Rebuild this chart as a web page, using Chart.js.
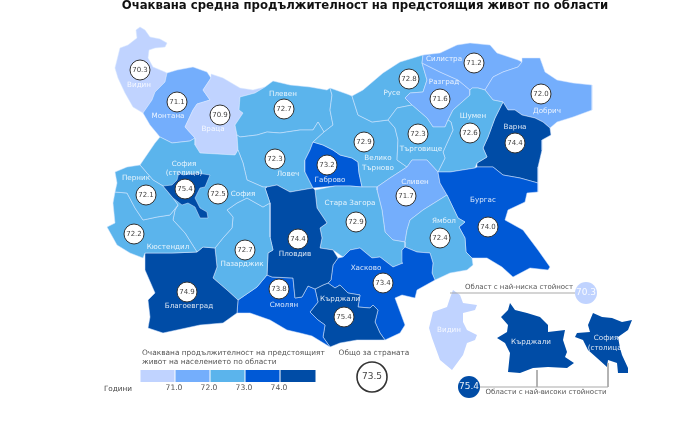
<!DOCTYPE html>
<html lang="bg">
<head>
<meta charset="utf-8">
<title>Очаквана средна продължителност</title>
<script src="https://cdn.jsdelivr.net/npm/chart.js@4"></script>
<style>
  html, body { margin: 0; padding: 0; background: #fff; }
  canvas { display: block; }
</style>
</head>
<body>
<canvas id="mapChart" width="696" height="421"></canvas>
<script>
/* ── Data ───────────────────────────────────────────────── */
const regionNames  = ['Видин','Монтана','Враца','Плевен','Ловеч','Габрово','Велико Търново','Русе','Разград','Силистра','Добрич','Варна','Шумен','Търговище','Сливен','Бургас','Ямбол','Стара Загора','Хасково','Кърджали','Смолян','Пловдив','Пазарджик','Благоевград','София','Кюстендил','Перник','София (столица)'];
const regionValues = [70.3,71.1,70.9,72.7,72.3,73.2,72.9,72.8,71.6,71.2,72.0,74.4,72.6,72.3,71.7,74.0,72.4,72.9,73.4,75.4,73.8,74.4,72.7,74.9,72.5,72.2,72.1,75.4];
const valueX = [140,177,220,284,275,327,364,409,440,474,541,515,470,418,406,488,440,356,383,344,279,298,245,187,218,134,146,185];
const valueY = [70,102,115,109,159,165,142,79,99,63,94,143,133,134,196,227,238,222,283,317,289,239,250,292,194,234,195,189];

// outlines, in picture pixels
const vidin = [[140,27],[145,30],[150,37],[160,39],[167,43],[165,47],[155,48],[149,50],[148,58],[153,67],[165,72],[167,73],[165,82],[155,92],[152,100],[143,113],[133,107],[125,93],[118,78],[115,68],[120,48],[128,45],[137,38],[136,30]];
const montana = [[143,113],[152,100],[155,92],[165,82],[167,73],[177,70],[193,67],[207,72],[211,78],[203,90],[210,100],[197,104],[193,110],[185,127],[195,138],[190,141],[172,143],[160,137],[150,125]];
const vratsa = [[211,78],[211,74],[223,78],[240,88],[253,90],[265,87],[255,93],[240,97],[239,110],[243,113],[235,125],[237,135],[238,150],[235,155],[200,153],[195,145],[195,138],[185,127],[193,110],[197,104],[210,100],[203,90]];
const pleven = [[265,87],[273,81],[290,85],[310,87],[327,90],[330,88],[332,95],[330,110],[333,125],[324,132],[318,122],[313,130],[300,130],[280,133],[267,132],[257,135],[240,137],[237,135],[235,125],[243,113],[239,110],[240,97],[255,93]];
const lovech = [[237,135],[240,137],[257,135],[267,132],[280,133],[300,130],[313,130],[318,122],[324,132],[313,142],[310,150],[305,160],[305,172],[308,178],[313,188],[290,192],[277,185],[267,187],[263,187],[247,180],[243,163],[238,150]];
const gabrovo = [[313,142],[323,145],[333,150],[340,155],[352,158],[358,162],[359,173],[362,187],[350,186],[335,186],[313,188],[308,178],[305,172],[305,160],[310,150]];
const tarnovo = [[330,88],[347,94],[352,96],[358,115],[372,122],[388,120],[395,128],[398,140],[397,160],[407,167],[390,178],[377,187],[362,187],[359,173],[358,162],[352,158],[340,155],[333,150],[323,145],[313,142],[324,132],[333,125],[330,110],[332,95]];
const ruse = [[423,55],[400,62],[383,73],[363,90],[352,96],[358,115],[372,122],[388,120],[397,108],[412,105],[405,98],[410,93],[423,92],[427,80],[422,63]];
const razgrad = [[422,63],[440,72],[458,80],[470,90],[470,95],[453,110],[448,120],[445,127],[433,127],[427,118],[412,105],[405,98],[410,93],[423,92],[427,80]];
const silistra = [[423,55],[440,53],[457,45],[470,43],[490,45],[497,53],[518,60],[522,62],[518,67],[503,72],[493,77],[485,90],[478,88],[472,88],[470,90],[458,80],[440,72],[422,63]];
const dobrich = [[522,62],[522,58],[540,58],[545,72],[557,80],[573,83],[592,85],[592,110],[573,117],[557,122],[550,128],[543,122],[535,118],[522,115],[515,110],[508,110],[503,102],[493,100],[485,90],[493,77],[503,72],[518,67]];
const varna = [[503,102],[508,110],[515,110],[522,115],[535,118],[543,122],[550,128],[551,135],[542,140],[542,150],[538,167],[538,183],[520,178],[503,175],[493,167],[477,167],[477,163],[487,157],[483,148],[488,137],[495,118]];
const shumen = [[470,90],[472,88],[478,88],[485,90],[493,100],[503,102],[495,118],[488,137],[483,148],[487,157],[477,163],[475,168],[450,172],[438,172],[445,158],[443,152],[453,130],[451,122],[448,120],[453,110],[470,95]];
const targovishte = [[388,120],[397,108],[412,105],[427,118],[433,127],[445,127],[448,120],[451,122],[453,130],[443,152],[445,158],[438,172],[427,160],[412,160],[407,167],[397,160],[398,140],[395,128]];
const sliven = [[412,160],[427,160],[438,172],[440,183],[447,195],[423,210],[410,220],[407,230],[405,242],[393,240],[385,232],[382,210],[377,190],[377,187],[390,178],[407,167]];
const burgas = [[438,172],[450,172],[475,168],[477,167],[493,167],[503,175],[520,178],[538,183],[538,192],[527,193],[525,202],[508,210],[505,220],[523,230],[532,242],[538,250],[550,267],[548,270],[530,268],[513,277],[502,267],[487,258],[472,258],[466,252],[465,238],[459,227],[465,222],[458,218],[447,195],[440,183]];
const yambol = [[447,195],[458,218],[465,222],[459,227],[465,238],[466,252],[472,258],[473,265],[467,270],[450,273],[435,280],[432,273],[433,263],[430,253],[417,252],[405,247],[405,242],[407,230],[410,220],[423,210]];
const staraZagora = [[315,190],[335,186],[350,186],[362,187],[377,187],[377,190],[382,210],[385,232],[393,240],[405,242],[405,247],[402,250],[403,263],[393,267],[380,257],[372,258],[360,248],[350,250],[343,257],[333,250],[320,248],[322,238],[320,228],[327,223],[317,208]];
const haskovo = [[338,258],[343,257],[350,250],[360,248],[372,258],[380,257],[393,267],[403,263],[402,250],[405,247],[417,252],[430,253],[433,263],[432,273],[435,280],[417,290],[415,298],[402,295],[395,298],[405,325],[400,333],[385,340],[380,333],[375,322],[378,310],[373,305],[370,308],[358,307],[360,295],[348,293],[340,285],[335,288],[328,283],[331,280],[333,265]];
const kardzhali = [[328,283],[335,288],[340,285],[348,293],[360,295],[358,307],[370,308],[373,305],[378,310],[375,322],[380,333],[385,340],[373,340],[357,340],[340,343],[330,347],[323,337],[325,325],[318,320],[310,312],[318,302],[315,289],[323,285]];
const smolyan = [[238,300],[257,287],[267,275],[272,277],[293,278],[295,298],[302,297],[308,286],[315,289],[318,302],[310,312],[318,320],[325,325],[323,337],[330,347],[312,336],[300,333],[287,330],[270,320],[250,313],[237,313]];
const plovdiv = [[265,188],[267,187],[277,185],[290,192],[313,188],[315,190],[317,208],[327,223],[320,228],[322,238],[320,248],[333,250],[338,258],[333,265],[331,280],[328,283],[323,285],[315,289],[308,286],[302,297],[295,298],[293,278],[272,277],[267,275],[268,253],[273,250],[270,237],[270,213],[270,203]];
const pazardzhik = [[215,248],[223,238],[232,228],[233,217],[227,210],[237,203],[247,198],[263,207],[270,203],[270,213],[270,237],[273,250],[268,253],[267,275],[257,287],[238,300],[227,290],[213,278],[217,267]];
const blagoevgrad = [[145,253],[172,253],[197,252],[203,247],[215,248],[217,267],[213,278],[227,290],[238,300],[237,313],[223,323],[200,325],[163,333],[148,328],[150,317],[148,300],[155,293],[145,270]];
const sofiaObl = [[140,165],[155,143],[160,137],[172,143],[190,141],[195,138],[195,145],[200,153],[235,155],[238,150],[243,163],[247,180],[263,187],[267,187],[265,188],[270,203],[263,207],[247,198],[237,203],[227,210],[233,217],[232,228],[223,238],[215,248],[203,247],[197,252],[185,233],[173,220],[175,210],[178,205],[173,198],[163,186],[153,180]];
const kyustendil = [[115,192],[127,193],[135,208],[143,220],[157,217],[170,215],[178,205],[175,210],[173,220],[185,233],[197,252],[172,253],[145,253],[143,258],[130,253],[117,245],[107,227],[115,223],[113,203]];
const pernik = [[115,172],[127,167],[140,165],[153,180],[163,186],[173,198],[178,205],[170,215],[157,217],[143,220],[135,208],[127,193],[115,192],[117,183]];
const sofiaCity = [[163,186],[172,185],[177,180],[179,172],[183,175],[197,173],[210,175],[205,187],[200,188],[195,198],[200,208],[207,212],[208,218],[200,218],[195,207],[188,203],[182,205],[173,198],[168,192]];

// small copies at the lower right
const insetVidin = [[453,290],[460,295],[463,303],[477,305],[475,310],[463,313],[463,322],[467,330],[477,335],[475,340],[467,343],[463,355],[452,370],[440,360],[432,338],[429,328],[433,312],[447,307],[450,298]];
const insetKardzhali = [[510,303],[515,310],[527,313],[540,317],[548,325],[548,332],[565,330],[563,340],[567,352],[565,357],[574,363],[567,368],[548,367],[533,368],[520,373],[508,372],[510,353],[505,343],[497,338],[507,332],[508,325],[501,317],[508,310]];
const insetSofia = [[593,313],[602,317],[612,318],[622,322],[632,320],[628,330],[618,337],[620,348],[622,355],[628,368],[628,373],[618,373],[617,363],[608,360],[607,367],[597,358],[588,350],[583,340],[575,337],[577,333],[590,332],[588,325]];

const regionShapes = [vidin,montana,vratsa,pleven,lovech,gabrovo,tarnovo,ruse,razgrad,silistra,dobrich,varna,shumen,targovishte,sliven,burgas,yambol,staraZagora,haskovo,kardzhali,smolyan,plovdiv,pazardzhik,blagoevgrad,sofiaObl,kyustendil,pernik,sofiaCity];

const legendEdges  = [140,175,210,245,280,316];
const legendTicks  = ['71.0','72.0','73.0','74.0'];
const legendColors = ['#c0d3ff','#74aefc','#5bb4ec','#0059d6','#004ca6'];
const binLimits    = [71,72,73,74];
const nationalValue = 73.5;
const lowestValue   = 70.3;
const highestValue  = 75.4;

const mapLabels = [
  ['Видин',139,85],['Монтана',168,116],['Враца',213,129],['Плевен',283,94],['Ловеч',288,174],
  ['София',184,164],['(столица)',184,173],['Перник',136,178],['Габрово',330,180],['Русе',392,93],
  ['Силистра',444,59],['Разград',444,82],['Добрич',547,111],['Шумен',473,116],['Търговище',421,149],
  ['Варна',515,127],['Велико',378,158],['Търново',378,168],['Сливен',415,182],['Бургас',483,200],
  ['Ямбол',444,221],['Стара Загора',350,203],['Хасково',366,268],['Кърджали',340,299],['София',243,194],
  ['Кюстендил',168,247],['Пазарджик',242,264],['Пловдив',295,254],['Смолян',284,305],['Благоевград',189,306],
  ['Видин',449,330],['Кърджали',531,342],['София',606,338],['(столица)',606,348]
];

/* ── Helpers ────────────────────────────────────────────── */
const colorFor = v => legendColors[binLimits.filter(l => v > l).length];
const toPoints = shape => shape.concat([shape[0]]).map(([x, y]) => ({ x, y }));

function polygon(shape, color, edge) {
  return {
    data: toPoints(shape), showLine: true, pointRadius: 0, tension: 0,
    backgroundColor: color, fill: 'shape',
    borderColor: edge || color, borderWidth: edge ? 0.6 : 0
  };
}
function line(shape) {
  return { data: shape.map(([x, y]) => ({ x, y })), showLine: true, pointRadius: 0, fill: false, borderColor: '#a9a9a9', borderWidth: 1 };
}
function dots(points, radius, fill, edge, width) {
  return { data: points.map(([x, y]) => ({ x, y })), pointRadius: radius, pointBackgroundColor: fill, pointBorderColor: edge, pointBorderWidth: width };
}

/* ── Datasets ───────────────────────────────────────────── */
const datasets = [];
regionShapes.forEach((s, i) => datasets.push(polygon(s, colorFor(regionValues[i]), 'rgba(215,232,255,0.85)')));
datasets.push(polygon(insetVidin, legendColors[0]));
datasets.push(polygon(insetKardzhali, legendColors[4]));
datasets.push(polygon(insetSofia, legendColors[4]));
legendColors.forEach((c, i) => {
  const x0 = legendEdges[i] + 0.5, x1 = legendEdges[i + 1] - 0.5;
  datasets.push(polygon([[x0,370],[x1,370],[x1,382],[x0,382]], c));
});
datasets.push(line([[450,293],[575,293]]));
datasets.push(line([[470,387],[608,387]]));
datasets.push(line([[537,370],[537,387]]));
datasets.push(line([[608,363],[608,387]]));
datasets.push(dots(valueX.map((x, i) => [x, valueY[i]]), 10, '#fff', '#333', 1));
datasets.push(dots([[372,377]], 15, '#fff', '#333', 1.6));
datasets.push(dots([[586,293]], 11, legendColors[0], legendColors[0], 0));
datasets.push(dots([[469,387]], 11, legendColors[4], legendColors[4], 0));
datasets.forEach((d, i) => { d.order = -i; });   // later sets draw on top

/* ── Texts, placed through the scales ───────────────────── */
const textPlugin = {
  id: 'mapTexts',
  afterDatasetsDraw(chart) {
    const { ctx, scales: { x, y } } = chart;
    const put = (txt, px, py, font, color, align) => {
      ctx.font = font; ctx.fillStyle = color; ctx.textAlign = align || 'center'; ctx.textBaseline = 'middle';
      ctx.fillText(txt, x.getPixelForValue(px), y.getPixelForValue(py));
    };
    ctx.save();
    const face = 'px "DejaVu Sans"';
    mapLabels.forEach(([t, px, py]) => put(t, px, py, '7.2' + face, 'rgba(255,255,255,0.85)'));
    regionValues.forEach((v, i) => put(v.toFixed(1), valueX[i], valueY[i], '7' + face, '#444'));
    put('Очаквана средна продължителност на предстоящия живот по области', 365, 6, 'bold 11.7' + face, '#111');
    put('Очаквана продължителност на предстоящият', 142, 353, '7.4' + face, '#555', 'left');
    put('живот на населението по области', 142, 362, '7.4' + face, '#555', 'left');
    put('Години', 118, 389, '7.3' + face, '#444');
    legendTicks.forEach((t, i) => put(t, legendEdges[i + 1] - 1, 388, '7.6' + face, '#555'));
    put('Общо за страната', 374, 353, '7.4' + face, '#555');
    put(nationalValue.toFixed(1), 372, 377, '9' + face, '#444');
    put('Област с най-ниска стойност', 519, 287, '7' + face, '#555');
    put('Области с най-високи стойности', 546, 392, '7' + face, '#555');
    put(lowestValue.toFixed(1), 586, 293, '9' + face, 'rgba(255,255,255,0.9)');
    put(highestValue.toFixed(1), 469, 387, '9' + face, 'rgba(255,255,255,0.9)');
    ctx.restore();
  }
};

new Chart(document.getElementById('mapChart').getContext('2d'), {
  type: 'scatter',
  data: { datasets },
  plugins: [textPlugin],
  options: {
    responsive: false,
    animation: false,
    layout: { padding: 0, autoPadding: false },
    plugins: { legend: { display: false }, tooltip: { enabled: false } },
    scales: {
      x: { type: 'linear', display: false, min: 0, max: 696 },
      y: { type: 'linear', display: false, min: 0, max: 421, reverse: true }
    }
  }
});
</script>
</body>
</html>
